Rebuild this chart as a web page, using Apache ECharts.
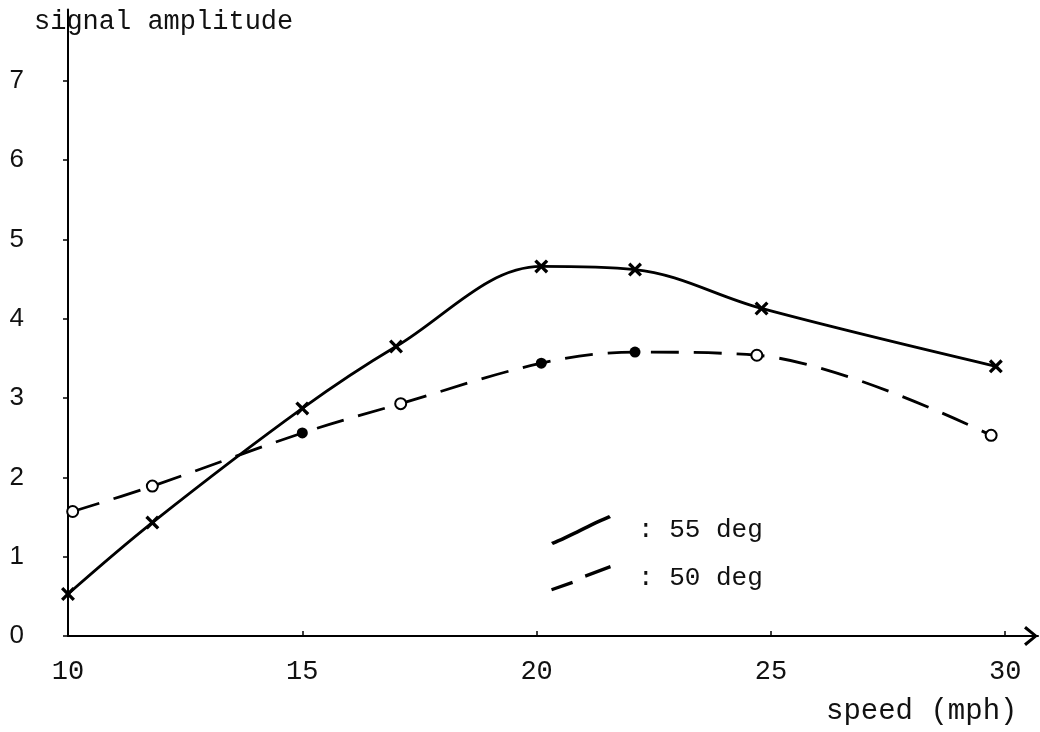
<!DOCTYPE html>
<html>
<head>
<meta charset="utf-8">
<script src="https://cdn.jsdelivr.net/npm/echarts@6/dist/echarts.min.js"></script>
<style>
  html, body { margin: 0; padding: 0; background: #fff; }
  #chart { width: 1040px; height: 732px; }
</style>
</head>
<body>
<div id="chart"></div>
<script>
// Axis tick values
const xTicks = [10, 15, 20, 25, 30];
const yTicks = [0, 1, 2, 3, 4, 5, 6, 7];

// 55 deg measurements (speed in mph, signal amplitude)
const speed55 = [10, 11.8, 15, 17, 20.1, 22.1, 24.8, 29.8];
const amp55   = [0.53, 1.43, 2.87, 3.65, 4.66, 4.62, 4.13, 3.40];

// 50 deg measurements
const speed50 = [10.1, 11.8, 15, 17.1, 20.1, 22.1, 24.7, 29.7];
const amp50   = [1.57, 1.89, 2.56, 2.93, 3.44, 3.58, 3.54, 2.53];
const filled50 = [false, false, true, false, true, true, false, false];

const mono = '"Liberation Mono", "DejaVu Sans Mono", monospace';
const sans = '"Liberation Sans", Arial, sans-serif';

const crossMark = 'path://M0,2 L2,0 L6,4 L10,0 L12,2 L8,6 L12,10 L10,12 L6,8 L2,12 L0,10 L4,6 Z';
const chevron = 'path://M0,12 L10,0 L20,12 L17.5,14 L10,4.5 L2.5,14 Z';
const solidIcon = 'path://M0,27 C18,20 30,12 58,0 L60,3 C32,15 20,23 2,30 Z';
const dashIcon = 'path://M0,22 L20,15 L21,18 L1,25 Z M32,9 L56,0 L57,3 L33,12 Z';

const data55 = speed55.map((s, i) => [s, amp55[i]]);
const data50 = speed50.map((s, i) => (
  filled50[i] ? { value: [s, amp50[i]], symbol: 'circle' } : { value: [s, amp50[i]] }
));

const chart = echarts.init(document.getElementById('chart'), null, { renderer: 'canvas' });

chart.setOption({
  animation: false,
  backgroundColor: '#fff',
  title: [
    { text: 'signal amplitude', left: 34, top: 8, padding: 0,
      textStyle: { fontFamily: mono, fontSize: 27, fontWeight: 'normal', color: '#111' } },
    { text: 'speed (mph)', left: 826, top: 697, padding: 0,
      textStyle: { fontFamily: mono, fontSize: 29, fontWeight: 'normal', color: '#111' } }
  ],
  grid: { left: 68, right: 2, top: 9.5, bottom: 96, containLabel: false, outerBoundsMode: 'none' },
  legend: {
    orient: 'vertical',
    left: 546, top: 510,
    itemWidth: 60, itemHeight: 30, itemGap: 20,
    selectedMode: false,
    data: [
      { name: '55 deg', icon: solidIcon, itemStyle: { color: '#000', borderWidth: 0 } },
      { name: '50 deg', icon: dashIcon, itemStyle: { color: '#000', borderWidth: 0 } }
    ],
    formatter: name => ': ' + name,
    textStyle: { fontFamily: mono, fontSize: 26, color: '#111', padding: [0, 0, 0, 22] }
  },
  xAxis: {
    type: 'value',
    min: 10, max: 30.7, interval: 5,
    splitLine: { show: false },
    axisLine: {
      onZero: false,
      lineStyle: { color: '#000', width: 2 },
      symbol: ['none', chevron],
      symbolSize: [20, 14],
      symbolOffset: [0, -7]
    },
    axisTick: { inside: true, length: 5, lineStyle: { color: '#000', width: 1.5 }, customValues: xTicks },
    axisLabel: { customValues: xTicks, margin: 22, fontFamily: mono, fontSize: 27, color: '#111' }
  },
  yAxis: {
    type: 'value',
    min: 0, max: 7.9, interval: 1,
    splitLine: { show: false },
    axisLine: { onZero: false, lineStyle: { color: '#000', width: 2 } },
    axisTick: { length: 5, lineStyle: { color: '#000', width: 1.5 }, customValues: yTicks },
    axisLabel: { customValues: yTicks, margin: 44, fontFamily: sans, fontSize: 26, color: '#111' }
  },
  series: [
    {
      name: '55 deg',
      type: 'line',
      data: data55,
      smooth: 0.35,
      symbol: crossMark,
      symbolSize: 14,
      color: '#000',
      itemStyle: { color: '#000' },
      lineStyle: { color: '#000', width: 2.8 },
      z: 3
    },
    {
      name: '50 deg',
      type: 'line',
      data: data50,
      smooth: 0.35,
      symbol: 'emptyCircle',
      symbolSize: 11,
      color: '#000',
      itemStyle: { color: '#000', borderWidth: 2 },
      lineStyle: { color: '#000', width: 2.8, type: [28, 15] },
      z: 2
    }
  ]
});
</script>
</body>
</html>
